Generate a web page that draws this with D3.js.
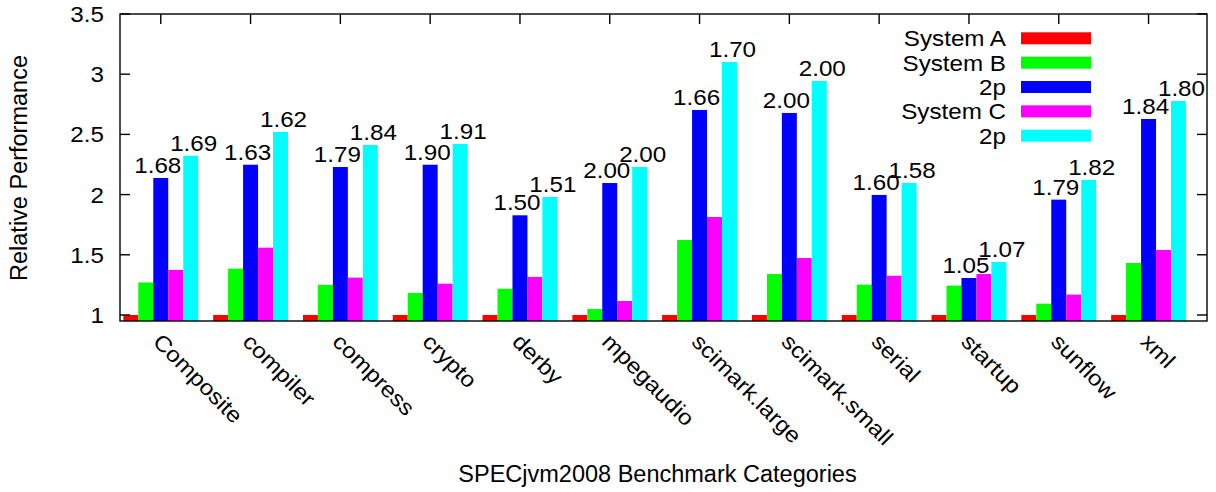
<!DOCTYPE html>
<html>
<head>
<meta charset="utf-8">
<script src="https://cdn.jsdelivr.net/npm/d3@7"></script>
<style>
  body { margin: 0; background: #fff; }
  svg text { font-family: "Liberation Sans", Arial, sans-serif; fill: #000; }
</style>
</head>
<body>
<script>
const categories = ["Composite", "compiler", "compress", "crypto", "derby", "mpegaudio",
  "scimark.large", "scimark.small", "serial", "startup", "sunflow", "xml"];

const seriesNames = ["System A", "System B", "2p", "System C", "2p"];
const seriesColors = ["#ff0000", "#00ff00", "#0000ff", "#ff00ff", "#00ffff"];

const systemA = [1, 1, 1, 1, 1, 1, 1, 1, 1, 1, 1, 1];
const systemB = [1.27, 1.385, 1.25, 1.183, 1.218, 1.05, 1.623, 1.34, 1.252, 1.244, 1.094, 1.432];
const systemB2p = [2.138, 2.248, 2.229, 2.248, 1.828, 2.096, 2.703, 2.678, 1.997, 1.307, 1.958, 2.628];
const systemC = [1.374, 1.559, 1.31, 1.26, 1.316, 1.116, 1.814, 1.473, 1.326, 1.34, 1.169, 1.54];
const systemC2p = [2.323, 2.52, 2.412, 2.42, 1.98, 2.229, 3.101, 2.944, 2.096, 1.44, 2.121, 2.777];

// speedup labels printed above the 2p bars
const labelsB = ["1.68", "1.63", "1.79", "1.90", "1.50", "2.00", "1.66", "2.00", "1.60", "1.05", "1.79", "1.84"];
const labelsC = ["1.69", "1.62", "1.84", "1.91", "1.51", "2.00", "1.70", "2.00", "1.58", "1.07", "1.82", "1.80"];

const yTicks = [1, 1.5, 2, 2.5, 3, 3.5];
const yTickLabels = ["1", "1.5", "2", "2.5", "3", "3.5"];

const series = [systemA, systemB, systemB2p, systemC, systemC2p];

const width = 1216, height = 492;
const plotL = 120, plotR = 1207, plotT = 14, plotB = 321;

const svg = d3.select("body").append("svg")
  .attr("width", width)
  .attr("height", height)
  .attr("xmlns", "http://www.w3.org/2000/svg");

const x = d3.scaleLinear().domain([-0.454, 11.651]).range([plotL, plotR]);
const y = d3.scaleLinear().domain([0.95, 3.5]).range([plotB, plotT]);
const slot = x(1) - x(0);
const barW = slot / 6;

const font = 22;
// the original's helvetica comes out a bit wider than liberation sans
const stretch = "scale(1.1,1)";

// value labels (drawn first, bars cover them like in the original)
const labels = svg.append("g").attr("font-size", font).attr("text-anchor", "middle");
labels.selectAll("text.lb")
  .data(labelsB)
  .enter().append("text")
  .attr("class", "lb")
  .attr("transform", (d, i) => `translate(${x(i) - 3},${y(systemB2p[i]) - 5}) ${stretch}`)
  .text(d => d);
labels.selectAll("text.lc")
  .data(labelsC)
  .enter().append("text")
  .attr("class", "lc")
  .attr("transform", (d, i) => `translate(${x(i) + 2 * barW + 3},${y(systemC2p[i]) - 5}) ${stretch}`)
  .text(d => d);

// bars
const bars = svg.append("g");
series.forEach((vals, s) => {
  bars.selectAll("rect.s" + s)
    .data(vals)
    .enter().append("rect")
    .attr("class", "s" + s)
    .attr("x", (d, i) => x(i) + (s - 2.5) * barW)
    .attr("width", barW)
    .attr("y", d => y(d))
    .attr("height", d => plotB - y(d))
    .attr("fill", seriesColors[s]);
});

// frame and ticks
const axes = svg.append("g").attr("stroke", "#000").attr("stroke-width", 1.4);
axes.append("rect")
  .attr("x", plotL).attr("y", plotT)
  .attr("width", plotR - plotL).attr("height", plotB - plotT)
  .attr("fill", "none");
axes.selectAll("line.yl")
  .data(yTicks)
  .enter().append("line")
  .attr("x1", plotL).attr("x2", plotL + 10)
  .attr("y1", d => y(d)).attr("y2", d => y(d));
axes.selectAll("line.yr")
  .data(yTicks)
  .enter().append("line")
  .attr("x1", plotR).attr("x2", plotR - 10)
  .attr("y1", d => y(d)).attr("y2", d => y(d));
axes.selectAll("line.xt")
  .data(categories)
  .enter().append("line")
  .attr("x1", (d, i) => x(i)).attr("x2", (d, i) => x(i))
  .attr("y1", plotT).attr("y2", plotT + 10);

// y tick labels
svg.append("g").attr("font-size", font).attr("text-anchor", "end")
  .selectAll("text")
  .data(yTicks)
  .enter().append("text")
  .attr("transform", d => `translate(${plotL - 16},${y(d)}) ${stretch}`)
  .attr("dy", "0.36em")
  .text((d, i) => yTickLabels[i]);

// category labels, rotated
svg.append("g").attr("font-size", font)
  .selectAll("text")
  .data(categories)
  .enter().append("text")
  .attr("transform", (d, i) => `translate(${x(i) - 9},${plotB + 22}) rotate(45) ${stretch}`)
  .text(d => d);

// axis titles
svg.append("text")
  .attr("font-size", 23.5)
  .attr("text-anchor", "middle")
  .attr("x", (plotL + plotR) / 2 - 6)
  .attr("y", 482)
  .text("SPECjvm2008 Benchmark Categories");

svg.append("text")
  .attr("font-size", 23.5)
  .attr("text-anchor", "middle")
  .attr("transform", `translate(27,168) rotate(-90)`)
  .text("Relative Performance");

// legend
const legend = svg.append("g").attr("font-size", font);
const rows = legend.selectAll("g")
  .data(seriesNames)
  .enter().append("g")
  .attr("transform", (d, i) => `translate(0,${38.3 + i * 24.35})`);
rows.append("text")
  .attr("transform", `translate(1006,0) ${stretch}`)
  .attr("text-anchor", "end")
  .attr("dy", "0.36em")
  .text(d => d);
rows.append("rect")
  .attr("x", 1021).attr("y", -6)
  .attr("width", 70).attr("height", 12)
  .attr("fill", (d, i) => seriesColors[i]);
</script>
</body>
</html>
